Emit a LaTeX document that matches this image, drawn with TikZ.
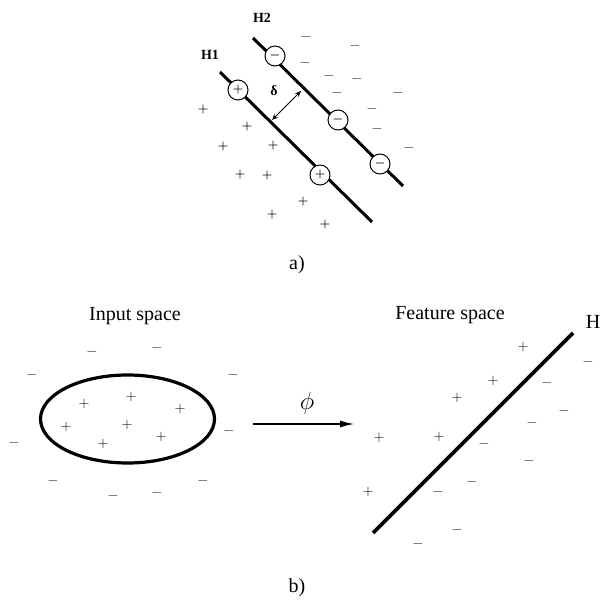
\documentclass[tikz,border=0pt]{standalone}
\usepackage{fontspec}
\setmainfont{Liberation Serif}
\usetikzlibrary{arrows.meta}
\definecolor{SvmInk}{HTML}{000000}
\definecolor{SvmDash}{HTML}{222222}

\begin{document}
\begin{tikzpicture}[x=1pt,y=-1pt,
    plus/.style={inner sep=0pt,text=SvmInk,font=\fontsize{14}{14}\selectfont},
    boldplus/.style={plus,font=\boldmath\fontsize{13}{13}\selectfont},
    minus/.style={inner sep=0pt,text=SvmDash,font=\fontsize{15}{15}\selectfont},
    sv/.style={circle,draw=SvmInk,line width=1pt,fill=white,minimum size=20pt,inner sep=0pt,font=\boldmath\fontsize{12}{12}\selectfont},
    hyper/.style={SvmInk,line width=3pt},
    caption/.style={text=SvmInk,font=\fontsize{20}{24}\selectfont}]
  \useasboundingbox (0,0) rectangle (602,601);
  % a) margin between the two hyperplanes
  \coordinate (h1a) at (220,72);
  \coordinate (h1b) at (372,222);
  \coordinate (h2a) at (253,38);
  \coordinate (h2b) at (403,186);
  \draw[hyper] (h1a) -- (h1b);
  \draw[hyper] (h2a) -- (h2b);
  \node[sv] (sva) at (238,90) {$+$};
  \node[sv] (svb) at (320,175) {$+$};
  \node[sv] (svc) at (275,56) {$-$};
  \node[sv] (svd) at (338,120) {$-$};
  \node[sv] (sve) at (380,164) {$-$};
  \coordinate (d1) at (272,120);
  \coordinate (d2) at (301,91);
  \draw[SvmInk,line width=1pt,{Stealth[length=6pt,width=5pt]}-{Stealth[length=6pt,width=5pt]}] (d1) -- (d2);
  \node[text=SvmInk,font=\bfseries\fontsize{14}{14}\selectfont] (delta) at (274,91) {δ};
  \node[text=SvmInk,font=\bfseries\fontsize{14}{14}\selectfont] (lh1) at (210,55) {H1};
  \node[text=SvmInk,font=\bfseries\fontsize{14}{14}\selectfont] (lh2) at (262,18) {H2};
  \foreach \x/\y [count=\i] in {203/110,247/127,223/147,273/146,240/175,267/176,303/202,272/215,325/225}
    \node[boldplus] (ta\i) at (\x,\y) {$+$};
  \foreach \x/\y [count=\i] in {306/37,355/46,305/63,329/76,357/79,337/93,398/93,372/109,377/129,409/148}
    \node[minus] (tb\i) at (\x,\y) {$-$};
  \node[caption] (capa) at (297,265) {a)};

  % b) mapping into feature space
  \node[caption] (inlbl) at (135,316) {Input space};
  \draw[SvmInk,line width=3.2pt] (127.5,419) ellipse (87pt and 44pt);
  \foreach \x/\y [count=\i] in {84/404,131/397,180/409,66/427,127/425,161/437,103/444}
    \node[plus] (ia\i) at (\x,\y) {$+$};
  \foreach \x/\y [count=\i] in {92/352,157/348,32/375,233/375,14/443,229/431,53/481,203/481,113/496,157/493}
    \node[minus] (ib\i) at (\x,\y) {$-$};
  \coordinate (mapa) at (253,424);
  \coordinate (mapb) at (354,424);
  \draw[SvmInk,line width=1.3pt,-{Latex[length=14pt,width=7pt]}] (mapa) -- (mapb);
  \node[text=SvmInk,font=\fontsize{27}{27}\selectfont] (phi) at (307,403) {$\phi$};

  \node[caption] (ftlbl) at (450,315) {Feature space};
  \node[caption] (hlbl) at (593,322) {H};
  \coordinate (ha) at (373,533);
  \coordinate (hb) at (573,333);
  \draw[SvmInk,line width=3.6pt] (ha) -- (hb);
  \foreach \x/\y [count=\i] in {523/347,493/381,457/398,379/438,439/437,368/492}
    \node[plus] (fa\i) at (\x,\y) {$+$};
  \foreach \x/\y [count=\i] in {588/362,547/383,564/411,532/423,484/444,529/461,472/482,438/492,457/530,418/544}
    \node[minus] (fb\i) at (\x,\y) {$-$};
  \node[caption] (capb) at (297,588) {b)};
\end{tikzpicture}
\end{document}
